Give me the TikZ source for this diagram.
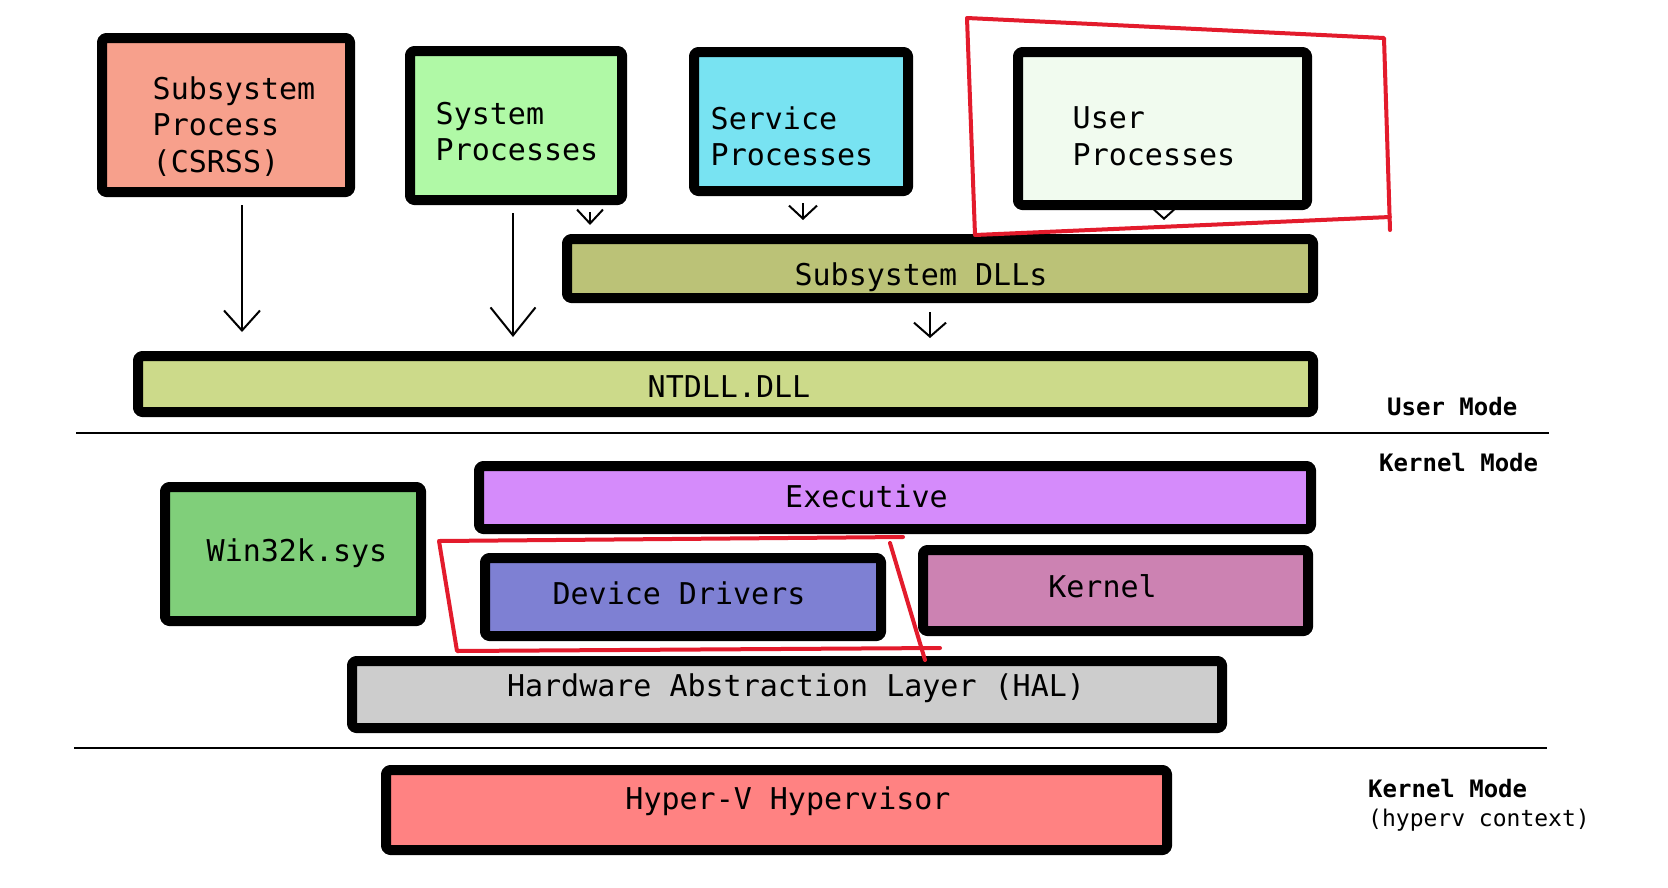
\documentclass[tikz,border=0pt]{standalone}
\usepackage{fontspec}
\newfontfamily\sketchfont{DejaVu Sans Mono}
\usetikzlibrary{arrows.meta}

\definecolor{csrssfill}{HTML}{F7A08C}
\definecolor{sysfill}{HTML}{B0F9A6}
\definecolor{svcfill}{HTML}{78E3F2}
\definecolor{userfill}{HTML}{F1FBEF}
\definecolor{dllfill}{HTML}{BBC277}
\definecolor{ntdllfill}{HTML}{CCDA8A}
\definecolor{execfill}{HTML}{D58BFB}
\definecolor{win32fill}{HTML}{80CF7A}
\definecolor{drvfill}{HTML}{7E80D3}
\definecolor{kernfill}{HTML}{CC82B2}
\definecolor{halfill}{HTML}{CDCDCD}
\definecolor{hvfill}{HTML}{FF8282}
\definecolor{redmark}{HTML}{E31B2C}

\begin{document}
\begin{tikzpicture}[x=1pt,y=-1pt,line join=round]
  \tikzstyle{layer}=[draw=black,line width=10pt,rounded corners=4pt,inner sep=0pt]
  \tikzstyle{every label}=[font=\sketchfont\fontsize{30}{36.5}\selectfont,align=left,text=black]
  \tikzstyle{modetext}=[font=\sketchfont\fontsize{24}{29}\selectfont,align=left,inner sep=0pt,anchor=west]
  \tikzstyle{flow}=[line width=2pt]
  \tikzstyle{redline}=[draw=redmark,line width=4pt,line cap=round]

  \path[use as bounding box,fill=white] (0,0) rectangle (1668,887);

  % user mode
  \node[layer,fill=csrssfill,minimum width=248pt,minimum height=154pt,
    label={[name=csrss-t,xshift=8pt,yshift=-11.5pt]center:{Subsystem\\Process\\(CSRSS)}}] (csrss) at (226,115) {};
  \node[layer,fill=sysfill,minimum width=212pt,minimum height=149pt,
    label={[name=sysproc-t,xshift=1pt,yshift=-6pt]center:{System\\Processes}}] (sysproc) at (516,125.5) {};
  \node[layer,fill=svcfill,minimum width=214pt,minimum height=139pt,
    label={[name=svcproc-t,xshift=-9pt,yshift=-15pt]center:{Service\\Processes}}] (svcproc) at (801,121.5) {};
  \node[layer,fill=userfill,minimum width=289pt,minimum height=153pt,
    label={[name=userproc-t,xshift=-8.5pt,yshift=-8pt]center:{User\\Processes}}] (userproc) at (1162.5,128.5) {};
  \node[layer,fill=dllfill,minimum width=746pt,minimum height=59pt,
    label={[name=subdll-t,xshift=-19pt,yshift=-8.5pt]center:{Subsystem DLLs}}] (subdll) at (940,268.5) {};
  \node[layer,fill=ntdllfill,minimum width=1175pt,minimum height=56pt,
    label={[name=ntdll-t,xshift=3.5pt,yshift=-3pt]center:{NTDLL.DLL}}] (ntdll) at (725.5,384) {};

  % kernel mode
  \node[layer,fill=execfill,minimum width=832pt,minimum height=63pt,
    label={[name=exec-t,xshift=-28.5pt,yshift=1pt]center:{Executive}}] (exec) at (895,497.5) {};
  \node[layer,fill=win32fill,minimum width=256pt,minimum height=134pt,
    label={[name=win32k-t,xshift=4pt,yshift=1pt]center:{Win32k.sys}}] (win32k) at (293,554) {};
  \node[layer,fill=drvfill,minimum width=396pt,minimum height=78pt,
    label={[name=devdrv-t,xshift=-4pt,yshift=4pt]center:{Device Drivers}}] (devdrv) at (683,597) {};
  \node[layer,fill=kernfill,minimum width=385pt,minimum height=81pt,
    label={[name=kernel-t,xshift=-13pt,yshift=4.5pt]center:{Kernel}}] (kernel) at (1115.5,590.5) {};
  \node[layer,fill=halfill,minimum width=870pt,minimum height=67pt,
    label={[name=hal-t,xshift=9pt,yshift=6.5pt]center:{Hardware Abstraction Layer (HAL)}}] (hal) at (787,694.5) {};

  % hypervisor
  \node[layer,fill=hvfill,minimum width=781pt,minimum height=80pt,
    label={[name=hyperv-t,xshift=11.5pt,yshift=9pt]center:{Hyper-V Hypervisor}}] (hyperv) at (776.5,810) {};

  % calls down the stack
  \draw[flow,-{Straight Barb[length=20pt,width=36pt]},shorten <=8pt,shorten >=19pt]
    ([xshift=16pt]csrss.south) -- ([xshift=16pt]csrss.south |- ntdll.north);
  \draw[flow,-{Straight Barb[length=28pt,width=45pt]},shorten <=8pt,shorten >=14pt]
    ([xshift=-3pt]sysproc.south) -- ([xshift=-3pt]sysproc.south |- ntdll.north);
  \draw[flow,-{Straight Barb[length=14pt,width=26pt]},shorten <=7pt,shorten >=9pt]
    ([xshift=74pt]sysproc.south) -- ([xshift=74pt]sysproc.south |- subdll.north);
  \draw[flow,-{Straight Barb[length=13pt,width=28pt]},shorten <=7pt,shorten >=14pt]
    ([xshift=2pt]svcproc.south) -- ([xshift=2pt]svcproc.south |- subdll.north);
  \draw[flow,-{Straight Barb[length=9pt,width=20pt]},shorten <=7pt,shorten >=14pt]
    ([xshift=1.5pt]userproc.south) -- ([xshift=1.5pt]userproc.south |- subdll.north);
  \draw[flow,-{Straight Barb[length=14pt,width=32pt]},shorten <=9pt,shorten >=13pt]
    ([xshift=-10pt]subdll.south) -- ([xshift=-10pt]subdll.south |- ntdll.north);

  % mode boundaries
  \draw[line width=2.5pt] (76,433) -- (1549,433);
  \draw[line width=2.5pt] (74,748) -- (1547,748);
  \node[modetext] (user-mode) at (1387,407) {\bfseries User Mode};
  \node[modetext] (kernel-mode) at (1379,463) {\bfseries Kernel Mode};
  \node[modetext] (hv-mode) at (1368,805.5) {\textbf{Kernel Mode}\\{\fontsize{23}{29}\selectfont(hyperv context)}};

  % highlights
  \draw[redline] (1390,230) -- (1384,38) -- (967,18) -- (975,235) -- (1390,217);
  \draw[redline] (903,537) -- (439,541) -- (457,651) -- (940,648);
  \draw[redline] (890,543) -- (925,660);
\end{tikzpicture}
\end{document}
